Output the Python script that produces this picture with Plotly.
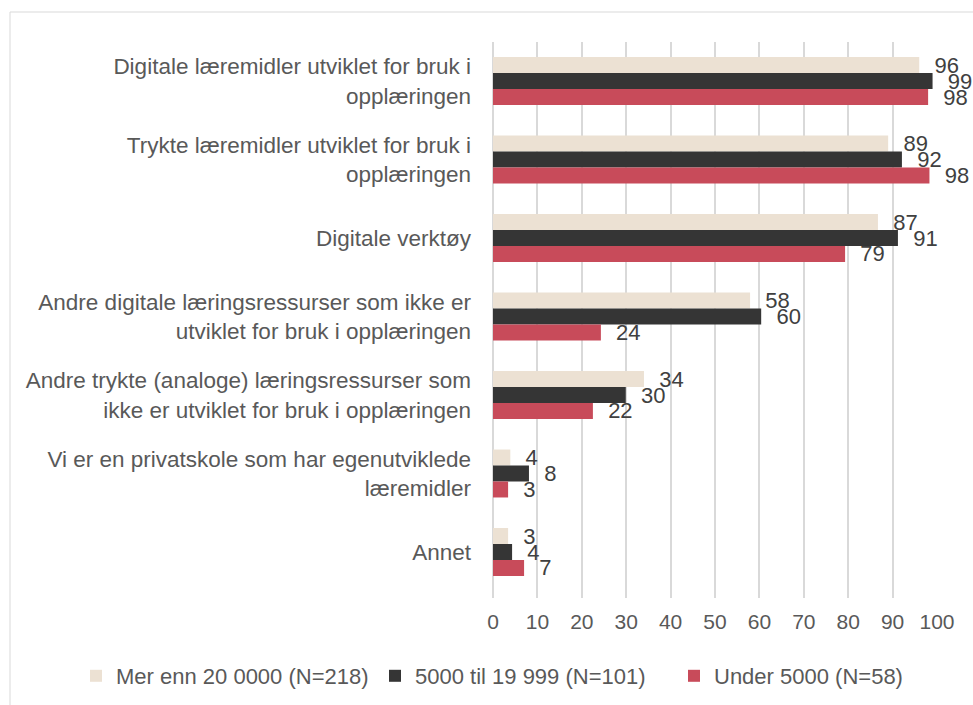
import textwrap
import plotly.graph_objects as go

categories = [
    "Digitale læremidler utviklet for bruk i opplæringen",
    "Trykte læremidler utviklet for bruk i opplæringen",
    "Digitale verktøy",
    "Andre digitale læringsressurser som ikke er utviklet for bruk i opplæringen",
    "Andre trykte (analoge) læringsressurser som ikke er utviklet for bruk i opplæringen",
    "Vi er en privatskole som har egenutviklede læremidler",
    "Annet",
]
series_names = ["Mer enn 20 0000 (N=218)", "5000 til 19 999 (N=101)", "Under 5000 (N=58)"]
large = [96, 89, 86.7, 57.9, 34, 3.9, 3.4]
medium = [99, 92.1, 91.2, 60.4, 29.9, 8.1, 4.3]
small = [98, 98.3, 79.3, 24.3, 22.5, 3.4, 7]
x_ticks = [0, 10, 20, 30, 40, 50, 60, 70, 80, 90, 100]

colors = ["#ECE1D3", "#353535", "#C84B5A"]
W, H = 973, 705
ML, MR, MT, MB = 493, 36, 42, 107
PW, PH = W - ML - MR, H - MT - MB

labels = ["<br>".join(textwrap.wrap(c, 43)) for c in categories]

fig = go.Figure()
for name, vals, col in zip(series_names, [large, medium, small], colors):
    fig.add_trace(go.Bar(
        y=labels, x=vals, name=name, orientation="h",
        marker=dict(color=col, line=dict(width=0)),
        text=[f"{v:.0f}" for v in vals],
        texttemplate="\u00a0\u00a0%{text}",
        textposition="outside", cliponaxis=False, constraintext="none",
        textfont=dict(family="Liberation Sans", size=22, color="#404040"),
        hoverinfo="skip",
    ))

def px_x(p):
    return (p - ML) / PW

def px_y(p):
    return (H - MB - p) / PH

fig.add_shape(type="rect", xref="paper", yref="paper",
              x0=px_x(10), x1=px_x(990), y0=px_y(12), y1=px_y(730),
              line=dict(color="#D9D9D9", width=1), fillcolor="rgba(0,0,0,0)", layer="below")

fig.update_layout(
    width=W, height=H,
    margin=dict(l=ML, r=MR, t=MT, b=MB, pad=0, autoexpand=False),
    paper_bgcolor="white", plot_bgcolor="white",
    barmode="group", bargap=0.389, bargroupgap=0,
    font=dict(family="Liberation Sans", color="#595959"),
    showlegend=True,
    legend=dict(orientation="h", x=px_x(76), xanchor="left", y=px_y(676), yanchor="middle",
                font=dict(size=22, color="#595959"), entrywidth=254, itemwidth=30,
                traceorder="normal"),
    xaxis=dict(range=[0, 100], tickvals=x_ticks, showgrid=True, gridcolor="#D9D9D9", gridwidth=2,
               zeroline=True, zerolinecolor="#D9D9D9", zerolinewidth=2, showline=False,
               tickfont=dict(size=21, color="#595959"), ticklabelstandoff=9, fixedrange=True),
    yaxis=dict(range=[6.586, -0.497], showgrid=False, showline=False, zeroline=False,
               tickfont=dict(size=22.5, color="#595959"), ticklabelstandoff=21, fixedrange=True),
)

fig.write_html("out.html", config={"displayModeBar": False},
               post_script="document.body.style.margin='0';")
